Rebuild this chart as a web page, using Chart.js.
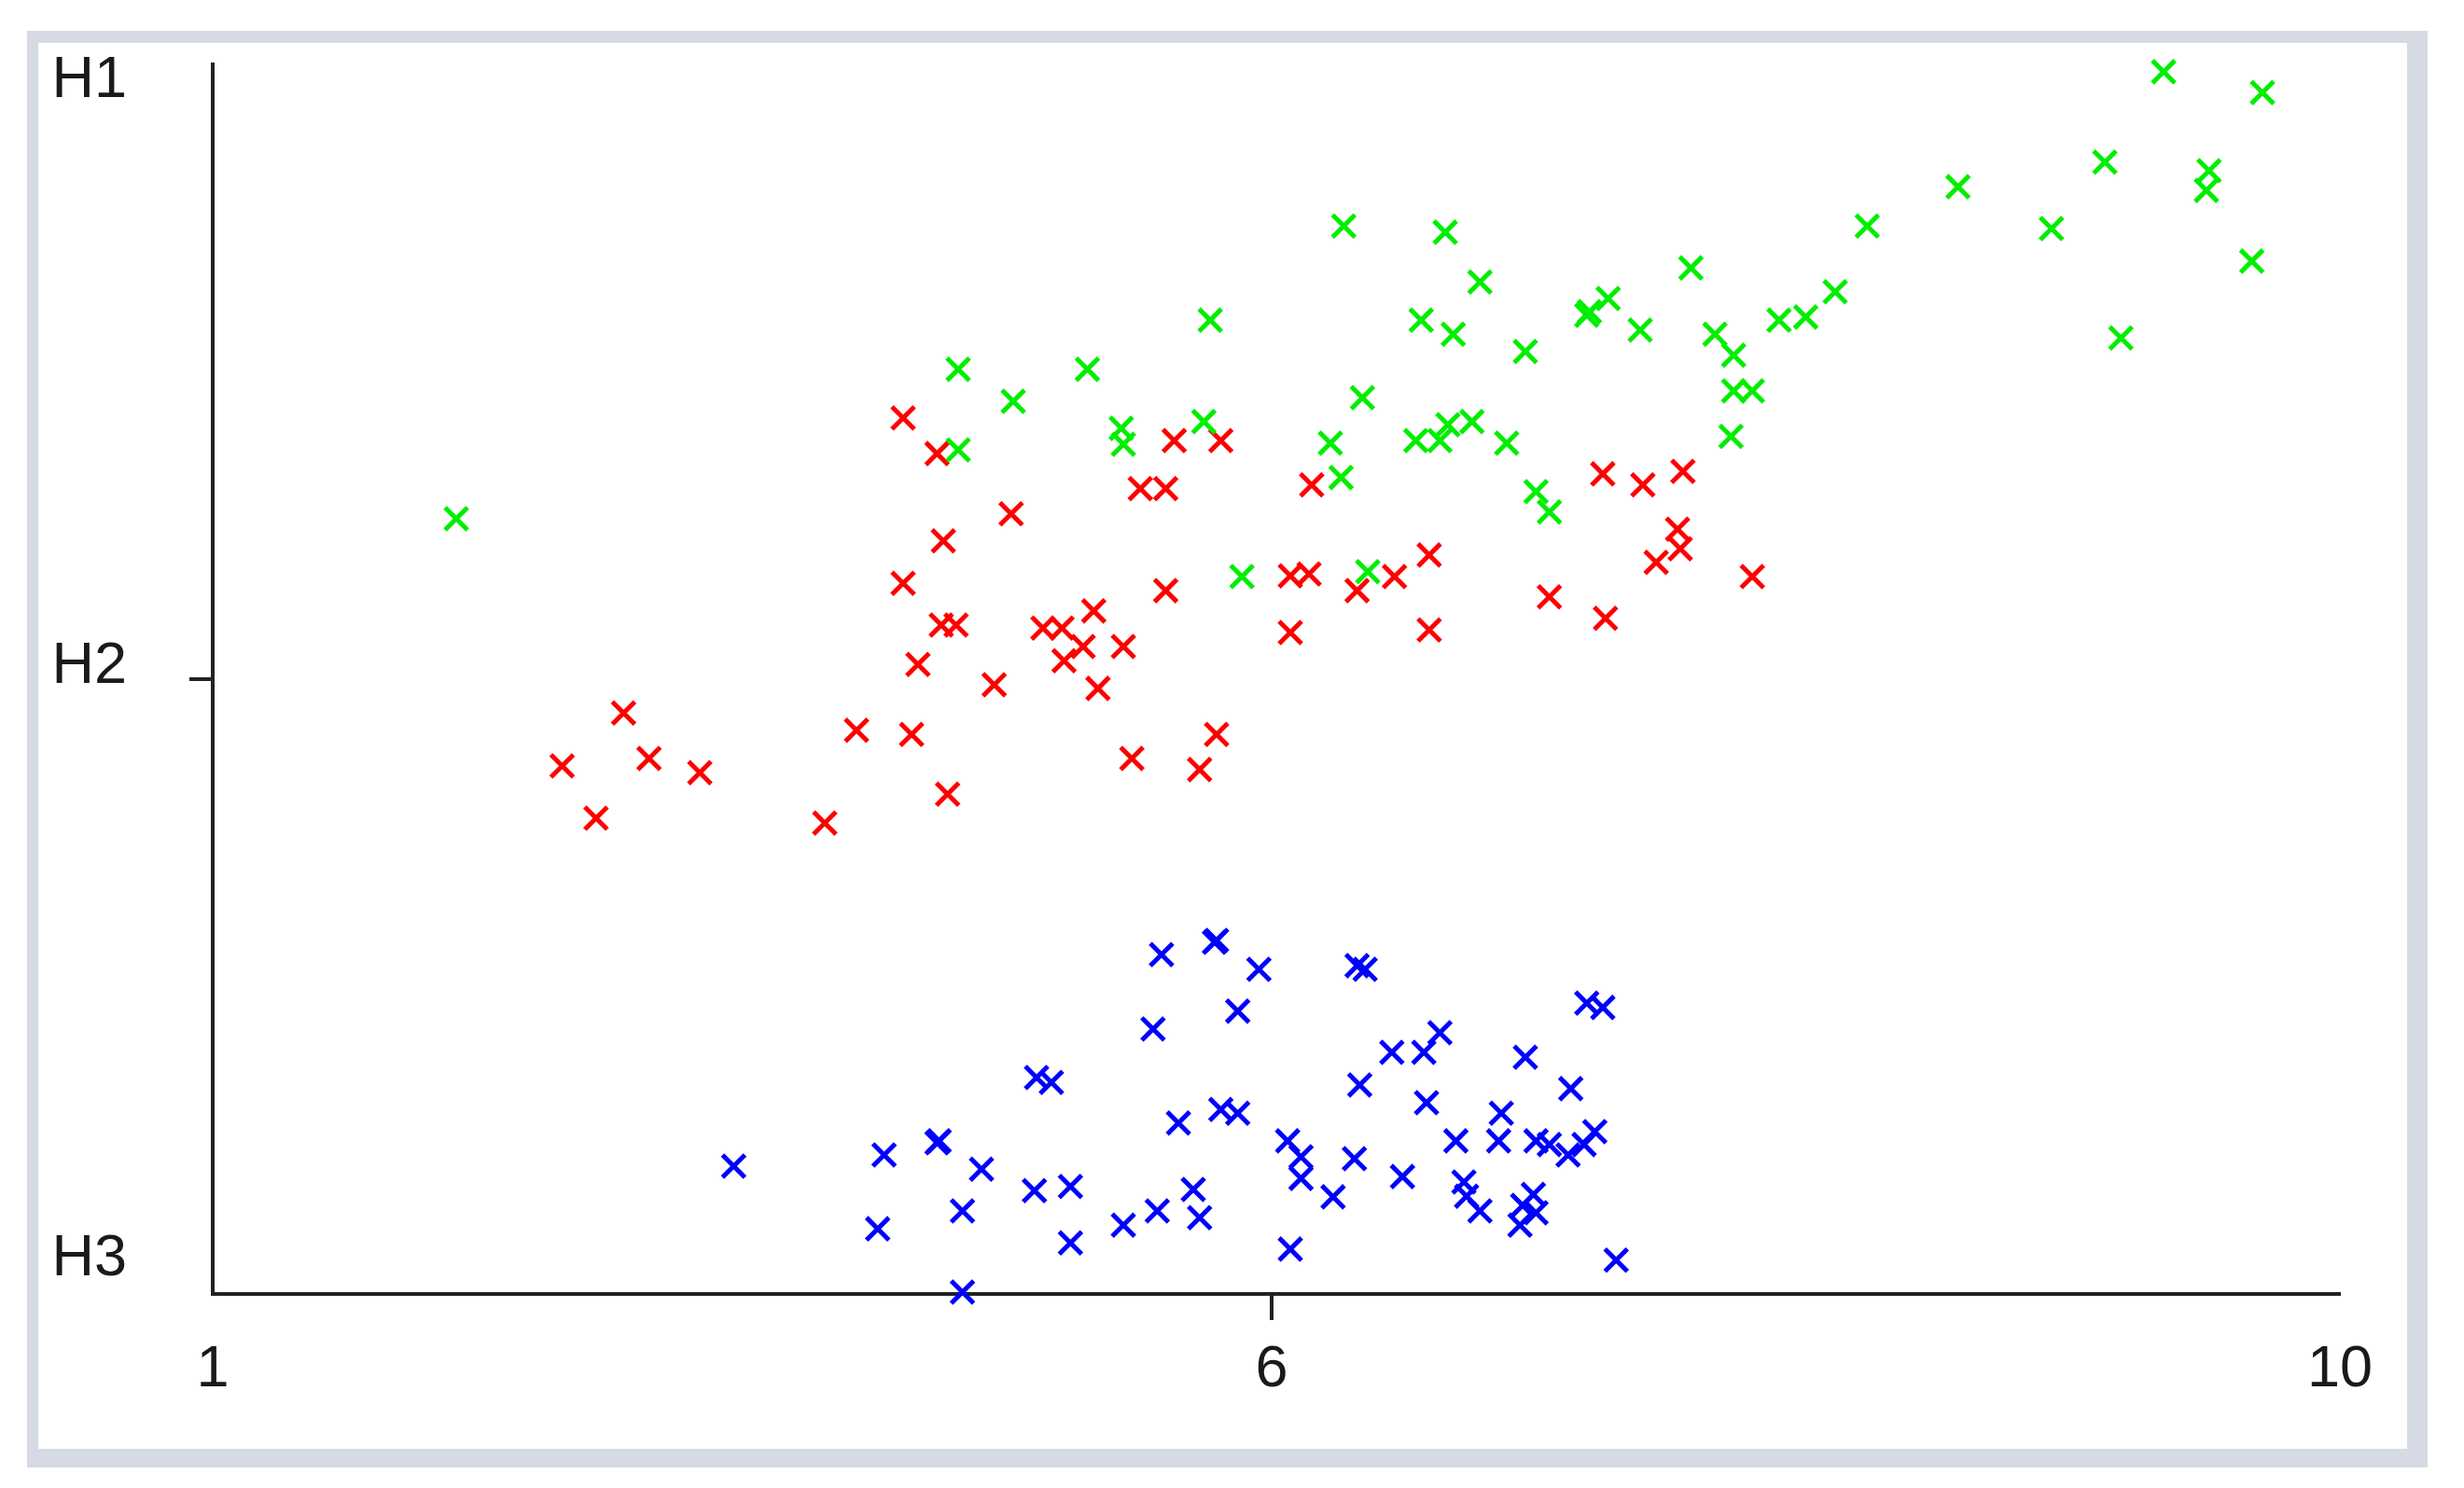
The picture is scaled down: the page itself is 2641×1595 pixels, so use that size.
<!DOCTYPE html>
<html>
<head>
<meta charset="utf-8">
<script src="https://cdn.jsdelivr.net/npm/chart.js@4.4.1/dist/chart.umd.min.js"></script>
<style>
  html, body { margin: 0; padding: 0; background: #fff; }
  #frame {
    position: absolute; left: 29px; top: 33px;
    width: 2573px; height: 1540px; box-sizing: border-box;
    border-style: solid; border-color: #d6dae2;
    border-width: 13px 22px 20px 12px;
    background: #fff;
  }
  canvas { display: block; }
</style>
</head>
<body>
<div id="frame"><canvas id="chart" width="2539" height="1507"></canvas></div>
<script>
// x tick labels sit at 1, 6 and 10; y labels H3 (bottom), H2, H1 (top)
const xTicks = [1, 6, 10];
const yTickValues = [0.056, 1.021, 1.974];
const yTickLabels = ['H3', 'H2', 'H1'];

const greenX = [2.15, 4.52, 4.52, 4.78, 5.13, 5.29, 5.30, 5.68, 5.71, 5.86,
  6.22, 6.26, 6.27, 6.34, 6.36, 6.54, 6.56, 6.63, 6.65, 6.66,
  6.68, 6.75, 6.78, 6.88, 6.95, 6.99, 7.04, 7.18, 7.19, 7.26,
  7.38, 7.57, 7.66, 7.72, 7.73, 7.73, 7.80, 7.90, 8.00, 8.11,
  8.23, 8.57, 8.92, 9.12, 9.18, 9.34, 9.51, 9.50, 9.67, 9.71];
const greenY = [1.261, 1.504, 1.373, 1.452, 1.504, 1.408, 1.382, 1.419, 1.584, 1.167,
  1.384, 1.328, 1.737, 1.458, 1.175, 1.388, 1.584, 1.388, 1.727, 1.414,
  1.561, 1.419, 1.646, 1.384, 1.533, 1.305, 1.272, 1.592, 1.598, 1.619,
  1.568, 1.669, 1.561, 1.395, 1.527, 1.469, 1.469, 1.584, 1.589, 1.630,
  1.737, 1.801, 1.733, 1.841, 1.555, 1.988, 1.827, 1.795, 1.680, 1.954];

const redX = [2.65, 2.81, 2.94, 3.06, 3.30, 3.89, 4.04, 4.26, 4.30, 4.33,
  4.42, 4.45, 4.47, 4.26, 4.44, 4.51, 4.69, 4.77, 4.92, 5.01,
  5.02, 5.11, 5.16, 5.18, 5.30, 5.34, 5.38, 5.50, 5.50, 5.54,
  5.66, 5.74, 5.76, 6.07, 6.07, 6.14, 6.15, 6.32, 6.46, 6.59,
  6.59, 7.04, 7.24, 7.25, 7.39, 7.44, 7.52, 7.53, 7.54, 7.80];
const redY = [0.859, 0.774, 0.945, 0.871, 0.848, 0.766, 0.917, 1.425, 0.910, 1.024,
  1.367, 1.225, 0.813, 1.156, 1.088, 1.088, 0.991, 1.269, 1.083, 1.083,
  1.030, 1.053, 1.111, 0.985, 1.053, 0.871, 1.310, 1.310, 1.144, 1.388,
  0.853, 0.910, 1.388, 1.168, 1.076, 1.171, 1.316, 1.144, 1.167, 1.202,
  1.080, 1.134, 1.334, 1.099, 1.316, 1.190, 1.244, 1.212, 1.338, 1.167];

const blueX = [3.46, 4.14, 4.17, 4.42, 4.43, 4.54, 4.54, 4.63, 4.88, 4.89,
  4.96, 5.05, 5.05, 5.30, 5.44, 5.46, 5.48, 5.56, 5.63, 5.66,
  5.73, 5.74, 5.76, 5.84, 5.84, 5.94, 6.06, 6.07, 6.11, 6.11,
  6.23, 6.31, 6.32, 6.33, 6.35, 6.45, 6.49, 6.57, 6.58, 6.63,
  6.69, 6.72, 6.73, 6.78, 6.85, 6.86, 6.95, 6.98, 6.94, 6.99,
  6.93, 6.99, 7.04, 7.11, 7.12, 7.17, 7.18, 7.21, 7.24, 7.29];
const blueY = [0.208, 0.106, 0.226, 0.246, 0.249, 0.135, 0.003, 0.203, 0.168, 0.352,
  0.344, 0.175, 0.083, 0.112, 0.431, 0.135, 0.552, 0.278, 0.170, 0.124,
  0.572, 0.575, 0.300, 0.460, 0.294, 0.528, 0.249, 0.073, 0.223, 0.188,
  0.158, 0.220, 0.534, 0.340, 0.528, 0.393, 0.191, 0.393, 0.311, 0.425,
  0.249, 0.182, 0.159, 0.135, 0.249, 0.294, 0.385, 0.162, 0.144, 0.132,
  0.112, 0.249, 0.243, 0.226, 0.334, 0.243, 0.473, 0.264, 0.466, 0.055];

function toPoints(xs, ys) {
  return xs.map((x, i) => ({ x: x, y: ys[i] }));
}

// the x axis is not evenly spaced: 1..6 takes a bit less than half of its length
const xBreakFrac = 0.4978;
function xToDecimal(v) {
  if (v <= 6) return (v - 1) / 5 * xBreakFrac;
  return xBreakFrac + (v - 6) / 4 * (1 - xBreakFrac);
}
function xFromDecimal(d) {
  if (d <= xBreakFrac) return 1 + d / xBreakFrac * 5;
  return 6 + (d - xBreakFrac) / (1 - xBreakFrac) * 4;
}

class PiecewiseScale extends Chart.LinearScale {
  getPixelForValue(value) {
    if (value === null || isNaN(value)) return NaN;
    return this.getPixelForDecimal(xToDecimal(value));
  }
  getValueForPixel(pixel) {
    return xFromDecimal(this.getDecimalForPixel(pixel));
  }
}
PiecewiseScale.id = 'piecewise';
PiecewiseScale.defaults = {};
Chart.register(PiecewiseScale);

const axisColor = '#222';
const labelFont = { family: '"Liberation Sans", Arial, sans-serif', size: 63 };

const tickMarks = {
  id: 'tickMarks',
  afterDraw(chart) {
    const { ctx, chartArea, scales } = chart;
    const xp = scales.x.getPixelForValue(6);
    const yp = scales.y.getPixelForValue(1);
    ctx.save();
    ctx.strokeStyle = axisColor;
    ctx.lineWidth = 4;
    ctx.beginPath();
    ctx.moveTo(xp, chartArea.bottom);
    ctx.lineTo(xp, chartArea.bottom + 28);
    ctx.moveTo(chartArea.left - 25, yp);
    ctx.lineTo(chartArea.left, yp);
    ctx.stroke();
    ctx.restore();
  }
};

function series(label, color, xs, ys) {
  return {
    label: label,
    data: toPoints(xs, ys),
    pointStyle: 'crossRot',
    pointRadius: 17,
    pointHoverRadius: 17,
    pointBorderWidth: 5,
    borderColor: color,
    backgroundColor: color,
    clip: false
  };
}

function noPadding(scale) {
  scale.paddingTop = 0;
  scale.paddingBottom = 0;
  scale.paddingLeft = 0;
  scale.paddingRight = 0;
}

new Chart(document.getElementById('chart').getContext('2d'), {
  type: 'scatter',
  data: {
    datasets: [
      series('H1', '#00ee00', greenX, greenY),
      series('H2', '#ff0000', redX, redY),
      series('H3', '#0000ff', blueX, blueY)
    ]
  },
  options: {
    responsive: false,
    animation: false,
    layout: { padding: { top: 23, right: 72, left: 0, bottom: 0 } },
    plugins: { legend: { display: false }, tooltip: { enabled: false } },
    scales: {
      x: {
        type: 'piecewise',
        min: 1,
        max: 10,
        afterBuildTicks: (scale) => { scale.ticks = xTicks.map(v => ({ value: v })); },
        afterFit: (scale) => { scale.height = 166; noPadding(scale); },
        grid: { display: false, drawTicks: false },
        border: { display: true, color: axisColor, width: 4 },
        ticks: {
          color: '#1a1a1a',
          font: labelFont,
          padding: 44,
          maxRotation: 0,
          autoSkip: false,
          callback: (v) => String(v)
        }
      },
      y: {
        type: 'linear',
        min: 0,
        max: 2,
        afterBuildTicks: (scale) => { scale.ticks = yTickValues.map(v => ({ value: v })); },
        afterFit: (scale) => { scale.width = 187; noPadding(scale); },
        grid: { display: false, drawTicks: false },
        border: { display: true, color: axisColor, width: 4 },
        ticks: {
          color: '#1a1a1a',
          font: labelFont,
          padding: 92,
          autoSkip: false,
          callback: (v, i) => yTickLabels[i]
        }
      }
    }
  },
  plugins: [tickMarks]
});
</script>
</body>
</html>
